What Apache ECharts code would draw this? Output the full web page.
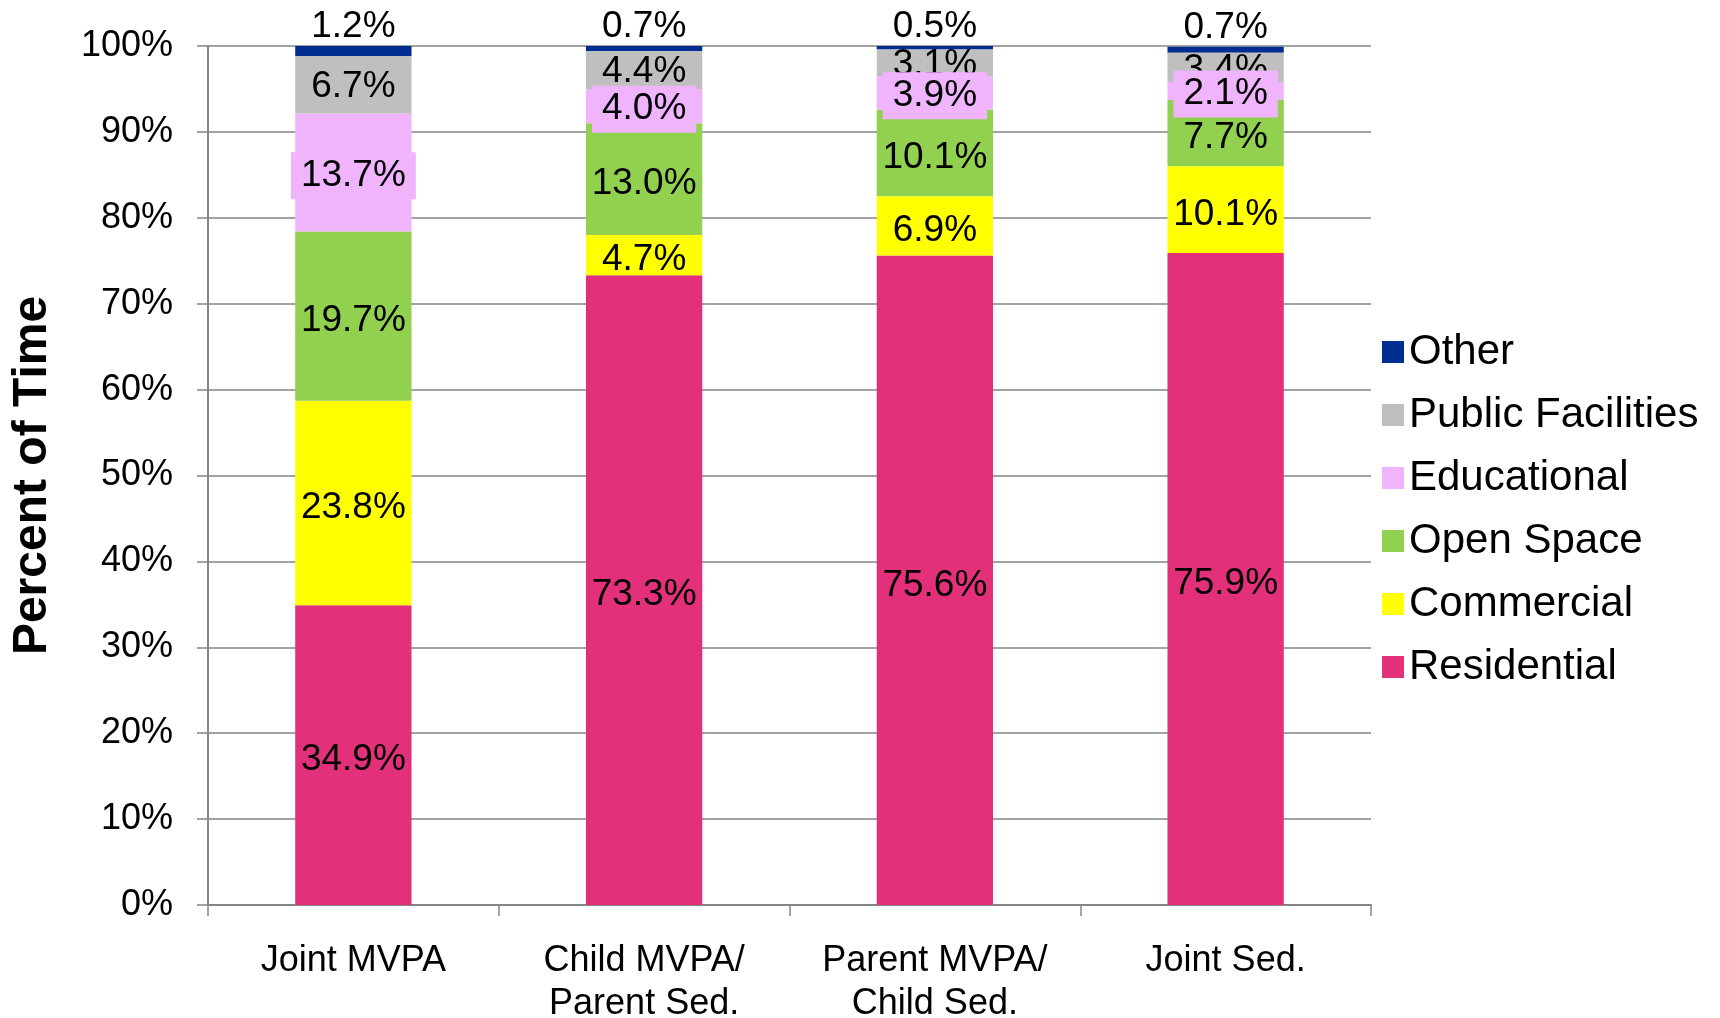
<!DOCTYPE html>
<html>
<head>
<meta charset="utf-8">
<script src="https://cdn.jsdelivr.net/npm/echarts@6/dist/echarts.min.js"></script>
<style>
  html, body { margin: 0; padding: 0; background: #ffffff; }
  #chart { width: 1720px; height: 1018px; }
</style>
</head>
<body>
<div id="chart"></div>
<script>
const categories = ["Joint MVPA", "Child MVPA/\nParent Sed.", "Parent MVPA/\nChild Sed.", "Joint Sed."];
const residential = [34.9, 73.3, 75.6, 75.9];
const commercial = [23.8, 4.7, 6.9, 10.1];
const openSpace = [19.7, 13.0, 10.1, 7.7];
const educational = [13.7, 4.0, 3.9, 2.1];
const publicFacilities = [6.7, 4.4, 3.1, 3.4];
const other = [1.2, 0.7, 0.5, 0.7];
const legendOrder = ["Other", "Public Facilities", "Educational", "Open Space", "Commercial", "Residential"];

const font = "'Liberation Sans', Arial, sans-serif";
const gridColor = "#858585";

const chart = echarts.init(document.getElementById("chart"));

const pct = (p) => p.value.toFixed(1) + "%";

function seg(name, data, color, label, z) {
  return {
    name: name,
    type: "bar",
    stack: "total",
    data: data,
    barWidth: "40%",
    z: z || 2,
    itemStyle: { color: color },
    label: Object.assign({
      show: true,
      position: "inside",
      offset: [0, 5],
      formatter: pct,
      color: "#000",
      fontSize: 37,
      fontFamily: font
    }, label || {})
  };
}

const option = {
  backgroundColor: "#ffffff",
  animation: false,
  grid: { left: 208, top: 46, width: 1163, height: 859, outerBoundsMode: "none", containLabel: false },
  legend: {
    data: legendOrder,
    orient: "vertical",
    left: 1377,
    top: 326,
    itemWidth: 22,
    itemHeight: 22,
    itemGap: 21,
    icon: "rect",
    textStyle: { fontSize: 42, lineHeight: 42, color: "#000", fontFamily: font }
  },
  xAxis: {
    type: "category",
    data: categories,
    axisLine: { lineStyle: { color: gridColor, width: 2 } },
    axisTick: { show: true, interval: 0, length: 11, lineStyle: { color: gridColor, width: 1.5 } },
    axisLabel: { interval: 0, color: "#000", fontSize: 36, lineHeight: 43, margin: 35, fontFamily: font }
  },
  yAxis: {
    type: "value",
    min: 0,
    max: 100,
    interval: 10,
    name: "Percent of Time",
    nameLocation: "middle",
    nameGap: 151,
    nameTextStyle: { fontSize: 48, fontWeight: "bold", color: "#000", fontFamily: font },
    axisLine: { show: true, lineStyle: { color: gridColor, width: 2 } },
    axisTick: { show: true, length: 11, lineStyle: { color: gridColor, width: 1.5 } },
    axisLabel: { formatter: "{value}%", color: "#000", fontSize: 36, margin: 35, fontFamily: font },
    splitLine: { show: true, lineStyle: { color: gridColor, width: 1.5 } }
  },
  series: [
    seg("Residential", residential, "#E2317A"),
    seg("Commercial", commercial, "#FFFF00"),
    seg("Open Space", openSpace, "#92D050"),
    seg("Educational", educational, "#EFB4FC",
      { backgroundColor: "#EFB4FC", padding: [5, 10], offset: [0, 3] }, 4),
    seg("Public Facilities", publicFacilities, "#BFBFBF", { offset: [0, 2] }, 3),
    seg("Other", other, "#002D8F", { position: "top", distance: 1, offset: [0, 0] })
  ]
};

chart.setOption(option);
window.addEventListener("resize", () => chart.resize());
</script>
</body>
</html>
